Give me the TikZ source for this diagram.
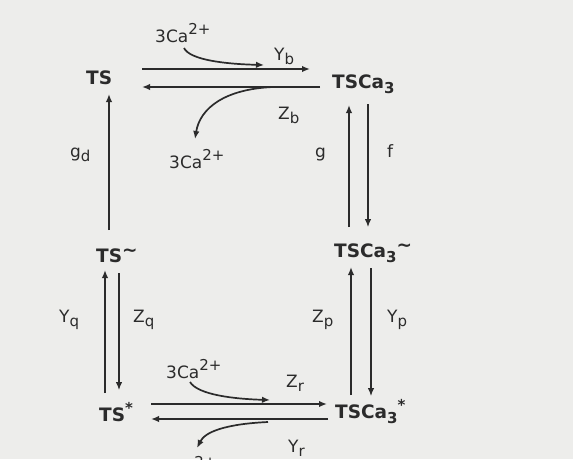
\documentclass[tikz,border=0pt]{standalone}
\usepackage{fontspec}
\setmainfont{DejaVu Sans}
\usetikzlibrary{arrows.meta}
\definecolor{bg}{HTML}{EDEDEB}
\definecolor{ink}{HTML}{2B2B2B}
\newcommand{\mysup}[1]{\raisebox{0.42em}{\fontsize{15}{15}\selectfont #1}}
\newcommand{\mysub}[1]{\raisebox{-0.28em}{\fontsize{15}{15}\selectfont #1}}
\newcommand{\mytil}{\raisebox{0.32em}{\textasciitilde}}
\begin{document}
\begin{tikzpicture}[x=1pt,y=-1pt,
  species/.style={anchor=base west,inner sep=0pt,text=ink,font=\fontsize{18.5}{22}\selectfont\bfseries},
  lab/.style={anchor=base west,inner sep=0pt,text=ink,font=\fontsize{17}{20}\selectfont},
  rx/.style={draw=ink,line width=1.8pt,-{Latex[length=8pt,width=6.5pt]}},
  rxb/.style={rx,line width=2.4pt},
  rxt/.style={rx,line width=1.2pt},
  cv/.style={draw=ink,line width=1.7pt,-{Latex[length=8pt,width=6.5pt]}}]
\fill[bg] (0,0) rectangle (573,459);
\useasboundingbox (0,0) rectangle (573,459);
% species
\node[species] (ts) at (86,84) {TS};
\node[species] (tsca) at (332,88) {TSCa\mysub{3}};
\node[species] (tsm) at (96,262) {TS\mytil};
\node[species] (tscam) at (334,257) {TSCa\mysub{3}\mytil};
\node[species] (tss) at (99,421) {TS\mysup{*}};
\node[species] (tscas) at (335,418) {TSCa\mysub{3}\mysup{*}};
% labels
\node[lab] (ca1) at (155,42) {3Ca\mysup{2+}};
\node[lab] (yb) at (274,60) {Y\mysub{b}};
\node[lab] (zb) at (278,119) {Z\mysub{b}};
\node[lab] (ca2) at (169,168) {3Ca\mysup{2+}};
\node[lab] (gd) at (70,157) {g\mysub{d}};
\node[lab] (g) at (315,157) {g};
\node[lab] (f) at (387,157) {f};
\node[lab] (yq) at (59,322) {Y\mysub{q}};
\node[lab] (zq) at (133,322) {Z\mysub{q}};
\node[lab] (zp) at (312,322) {Z\mysub{p}};
\node[lab] (yp) at (387,322) {Y\mysub{p}};
\node[lab] (ca3) at (166,378) {3Ca\mysup{2+}};
\node[lab] (zr) at (286,387) {Z\mysub{r}};
\node[lab] (yr) at (288,452) {Y\mysub{r}};
\node[lab] (ca4) at (161,475) {3Ca\mysup{2+}};
% endpoints
\coordinate (tf1) at (142,69); \coordinate (tf2) at (310,69);
\coordinate (tb1) at (320,87); \coordinate (tb2) at (142,87);
\coordinate (tc1) at (184,48); \coordinate (tc2) at (264,65);
\coordinate (tc3) at (273,87); \coordinate (tc4) at (195,139);
\coordinate (gd1) at (109,230); \coordinate (gd2) at (109,94);
\coordinate (g1) at (349,227); \coordinate (g2) at (349,105);
\coordinate (f1) at (368,104); \coordinate (f2) at (368,227);
\coordinate (yq1) at (105,393); \coordinate (yq2) at (105,270);
\coordinate (zq1) at (119,273); \coordinate (zq2) at (119,390);
\coordinate (zp1) at (351,395); \coordinate (zp2) at (351,267);
\coordinate (yp1) at (371,268); \coordinate (yp2) at (371,396);
\coordinate (bf1) at (151,404); \coordinate (bf2) at (327,404);
\coordinate (bb1) at (328,419); \coordinate (bb2) at (151,419);
\coordinate (bc1) at (190,382); \coordinate (bc2) at (270,400);
\coordinate (bc3) at (268,422); \coordinate (bc4) at (197,448);
% arrows
\draw[rx] (tf1) -- (tf2);
\draw[rxb] (tb1) -- (tb2);
\draw[cv] (tc1) .. controls (190,60) and (225,64) .. (tc2);
\draw[cv] (tc3) .. controls (225,89) and (200,108) .. (tc4);
\draw[rx] (gd1) -- (gd2);
\draw[rx] (g1) -- (g2);
\draw[rxt] (f1) -- (f2);
\draw[rx] (yq1) -- (yq2);
\draw[rxt] (zq1) -- (zq2);
\draw[rx] (zp1) -- (zp2);
\draw[rxt] (yp1) -- (yp2);
\draw[rx] (bf1) -- (bf2);
\draw[rxb] (bb1) -- (bb2);
\draw[cv] (bc1) .. controls (198,395) and (235,399) .. (bc2);
\draw[cv] (bc3) .. controls (225,424) and (205,432) .. (bc4);
\end{tikzpicture}
\end{document}
